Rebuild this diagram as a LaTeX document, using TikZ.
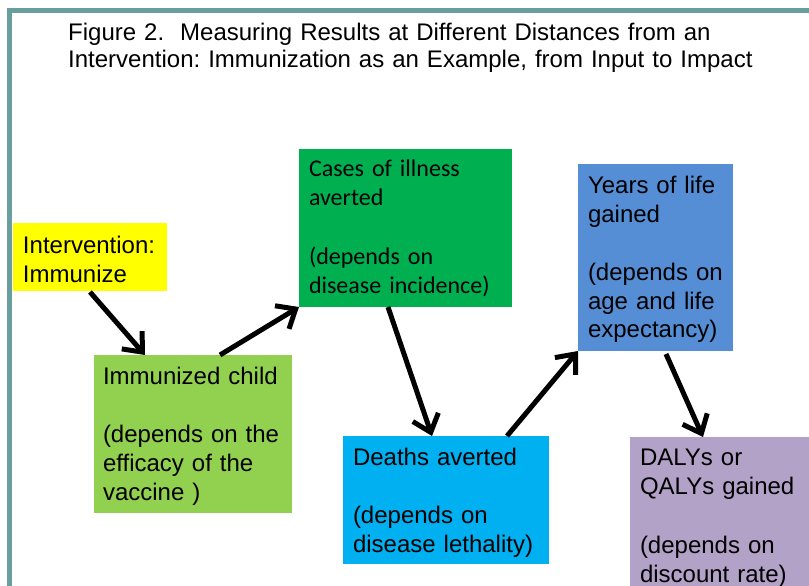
\documentclass[tikz,border=0pt]{standalone}
\usepackage{fontspec}
\setmainfont{Liberation Sans}
\newfontfamily\calfont{Carlito}
\usetikzlibrary{arrows.meta,calc}
\definecolor{framecol}{RGB}{104,158,158}
\definecolor{yelcol}{HTML}{FFFF00}
\definecolor{immcol}{HTML}{92D050}
\definecolor{cascol}{HTML}{00B050}
\definecolor{yrscol}{HTML}{558ED5}
\definecolor{dthcol}{HTML}{00B0F0}
\definecolor{dalycol}{HTML}{B3A2C7}
\frenchspacing
\begin{document}
\begin{tikzpicture}[x=1pt,y=-1pt,
  boxnode/.style={inner sep=0pt, outer sep=0pt, anchor=north west, draw=none},
  txt/.style={anchor=base west, inner sep=0pt, outer sep=0pt, text width=230pt, align=left,
              font=\fontsize{24}{29}\selectfont},
  arr/.style={line width=5pt, -{Straight Barb[length=16pt,width=27pt]}}]
\path[use as bounding box] (0,0) rectangle (809,586);
\clip (0,0) rectangle (809,586);
\fill[white] (0,0) rectangle (809,586);
% frame
\draw[framecol, line width=5pt] (9.5,620) -- (9.5,10.5) -- (840,10.5);
% title
\node[anchor=base west, inner sep=0pt, text width=760pt, align=left,
      font=\fontsize{24}{27}\selectfont\frenchspacing] (title) at (68,41)
  {Figure 2.\ \ Measuring Results at Different Distances from an\\
   Intervention: Immunization as an Example, from Input to Impact};
% boxes
\node[boxnode, fill=yelcol, minimum width=154pt, minimum height=68pt] (yel) at (13,223) {};
\node[boxnode, fill=immcol, minimum width=198pt, minimum height=158pt] (imm) at (94,355) {};
\node[boxnode, fill=cascol, minimum width=213pt, minimum height=158pt] (cas) at (299,149) {};
\node[boxnode, fill=yrscol, minimum width=155pt, minimum height=187pt] (yrs) at (578,164) {};
\node[boxnode, fill=dthcol, minimum width=206pt, minimum height=128pt] (dth) at (343,436) {};
\node[boxnode, fill=dalycol, minimum width=200pt, minimum height=170pt] (daly) at (630,437) {};
% texts
\node[txt] (yelt) at (23,253) {Intervention:\\Immunize};
\node[txt] (immt) at (103,384) {Immunized child\\[29pt](depends on the\\efficacy of the\\vaccine )};
\node[txt, font=\calfont\fontsize{24}{29}\selectfont] (cast) at (309,176) {Cases of illness\\averted\\[30pt](depends on\\disease incidence)};
\node[txt] (yrst) at (588,193) {Years of life\\gained\\[29pt](depends on\\age and life\\expectancy)};
\node[txt] (dtht) at (353,465) {Deaths averted\\[29pt](depends on\\disease lethality)};
\node[txt] (dalyt) at (640,465) {DALYs or\\QALYs gained\\[30pt](depends on\\discount rate)};
% arrows
\draw[arr] ($(yel.south west)+(77,1)$) -- ($(imm.north west)+(51,0)$);
\draw[arr] ($(imm.north west)+(126,0)$) -- (cas.south west);
\draw[arr] ($(cas.south west)+(89,0)$) -- ($(dth.north west)+(89,0)$);
\draw[arr] ($(dth.north west)+(164,0)$) -- (yrs.south west);
\draw[arr] ($(yrs.south west)+(88,3)$) -- ($(daly.north west)+(73,0)$);
\end{tikzpicture}
\end{document}
